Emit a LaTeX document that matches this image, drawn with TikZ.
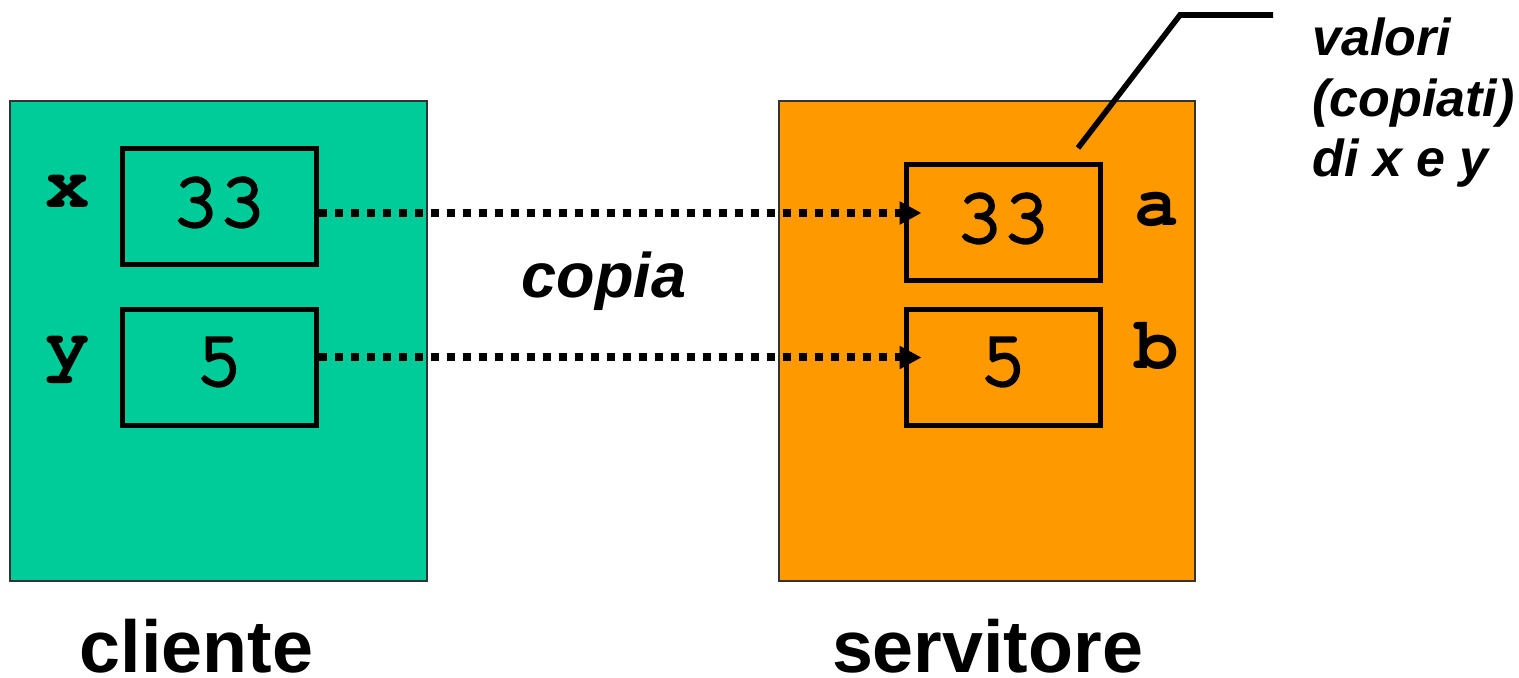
\documentclass[tikz,border=0pt]{standalone}
\usepackage{fontspec}
\setmainfont{Liberation Sans}
\newfontfamily\monofont{TeX Gyre Cursor}[FakeBold=4]
\newfontfamily\monobold{TeX Gyre Cursor}
\usetikzlibrary{arrows.meta}
\definecolor{clientgreen}{HTML}{00CC99}
\definecolor{serverorange}{HTML}{FF9900}
\begin{document}
\begin{tikzpicture}[x=0.5pt,y=-0.5pt,
  bigbox/.style={draw=black!80,line width=1pt},
  valbox/.style={draw=black,line width=2.5pt,minimum width=97pt,minimum height=58pt,inner sep=0pt},
  numtxt/.style={anchor=base,inner sep=0pt,font=\fontsize{39}{40}\selectfont\monofont},
  vartxt/.style={anchor=base,inner sep=0pt,font=\fontsize{37}{40}\selectfont\monobold\bfseries},
  labtxt/.style={anchor=base,inner sep=0pt,font=\fontsize{36.8}{40}\selectfont\bfseries},
  notetxt/.style={anchor=base west,inner sep=0pt,font=\fontsize{26}{30}\selectfont\bfseries\itshape},
  copyarrow/.style={line width=4pt,dash pattern=on 4pt off 4pt,-{Triangle[length=11pt,width=11pt]}},
  callout/.style={line width=2.8pt}]
\useasboundingbox (0,0) rectangle (1519,678);
% big boxes
\node[bigbox,fill=clientgreen,minimum width=208.5pt,minimum height=240pt,inner sep=0pt] (cli) at (218.5,341) {};
\node[bigbox,fill=serverorange,minimum width=208pt,minimum height=240pt,inner sep=0pt] (srv) at (987,341) {};
% value boxes
\node[valbox] (x33) at (219,207) {};
\node[valbox] (y5) at (219,367.5) {};
\node[valbox] (a33) at (1003,223) {};
\node[valbox] (b5) at (1003,367.5) {};
% texts in boxes
\node[numtxt] (tx33) at (219,226) {33};
\node[numtxt] (ty5) at (219,385) {5};
\node[numtxt] (ta33) at (1003,242) {33};
\node[numtxt] (tb5) at (1003,385) {5};
% variable names
\node[vartxt] (vx) at (68,208) {x};
\node[vartxt] (vy) at (68,368) {y};
\node[vartxt] (va) at (1157,226) {a};
\node[vartxt] (vb) at (1157,368) {b};
% arrows
\draw[copyarrow] ([yshift=-3pt]x33.east) -- ([xshift=9pt,yshift=5pt]a33.west);
\draw[copyarrow] ([yshift=5pt]y5.east) -- ([xshift=9pt,yshift=5pt]b5.west);
\node[anchor=base,inner sep=0pt,font=\fontsize{31.5}{34}\selectfont\bfseries\itshape] (copia) at (604,298) {copia};
% labels
\node[labtxt] (lcli) at (196.5,672) {cliente};
\node[labtxt] (lsrv) at (987.5,672) {servitore};
% callout
\coordinate (cstart) at (1078,148);
\coordinate (cbend) at (1180,15);
\coordinate (cend) at (1273,15);
\draw[callout] (cstart) -- (cbend) -- (cend);
\node[notetxt] (n1) at (1312,56) {valori};
\node[notetxt] (n2) at (1312,117) {(copiati)};
\node[notetxt] (n3) at (1312,177) {di x e y};
\end{tikzpicture}
\end{document}
